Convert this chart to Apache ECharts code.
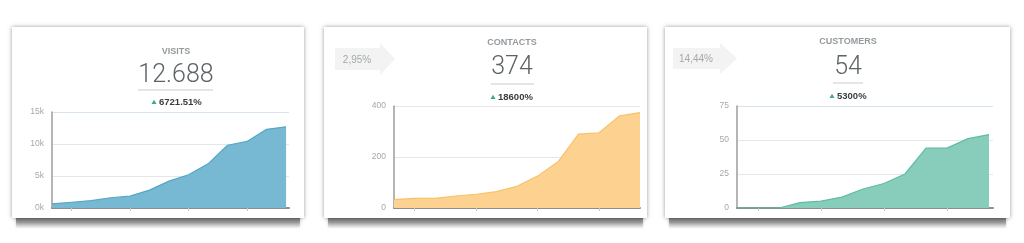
<!DOCTYPE html>
<html>
<head>
<meta charset="utf-8">
<script src="https://cdn.jsdelivr.net/npm/echarts@6/dist/echarts.min.js"></script>
<style>
html,body{margin:0;padding:0;background:#fff;}
#chart{width:1024px;height:243px;}
</style>
</head>
<body>
<div id="chart"></div>
<script>
// ---- data ----
const titles = ['VISITS', 'CONTACTS', 'CUSTOMERS'];
const totals = ['12.688', '374', '54'];
const growth = ['6721.51%', '18600%', '5300%'];
const conversions = ['2,95%', '14,44%'];
const visits = [650, 900, 1150, 1600, 1850, 2800, 4200, 5200, 6900, 9800, 10400, 12300, 12688];
const contacts = [33, 38, 38, 47, 54, 64, 85, 125, 181, 290, 295, 361, 374];
const customers = [0, 0, 0, 4, 5, 8, 14, 18, 25, 44, 44, 51, 54];
const yMax = [15000, 400, 75];
const yInterval = [5000, 200, 25];
const xTickIdx = [1, 4, 7, 10];

// ---- layout / style ----
const cards = [
  {x: 12, y: 27, w: 292, h: 191},
  {x: 324, y: 27, w: 323, h: 191},
  {x: 665, y: 27, w: 345, h: 191}
];
const grids = [
  {left: 52, top: 112, width: 237, height: 96},
  {left: 394, top: 106, width: 246, height: 102},
  {left: 737, top: 106, width: 256, height: 102}
];
const xMax = [12.15, 12, 12.19];
const heads = [
  {cx: 176, title: 52, num: 76, line: [138, 213, 90], pct: 102, tri: 154},
  {cx: 512, title: 43, num: 68, line: [491, 534, 84], pct: 97, tri: 493},
  {cx: 848, title: 42, num: 68, line: [833, 863, 83], pct: 96, tri: 832}
];
const arrows = [
  {x0: 335, x1: 380, tip: 395, top: 48, bot: 70, htop: 43, hbot: 75, tx: 357, ty: 60},
  {x0: 673, x1: 720, tip: 737, top: 48, bot: 69, htop: 43, hbot: 74, tx: 696, ty: 59}
];
const fills = ['#77b8d3', '#fdd290', '#88cdbb'];
const strokes = ['#55a6c9', '#f8c26a', '#5fbca2'];
const seriesData = [visits, contacts, customers];

const graphic = [];
cards.forEach(c => {
  graphic.push({
    type: 'rect', z: -20, silent: true,
    shape: {x: c.x + 4, y: c.y + c.h - 4, width: c.w - 8, height: 15},
    style: {
      fill: new echarts.graphic.LinearGradient(0, 0, 0, 1, [
        {offset: 0, color: 'rgba(80,80,80,0.95)'},
        {offset: 0.55, color: 'rgba(120,120,120,0.65)'},
        {offset: 1, color: 'rgba(200,200,200,0)'}
      ]),
      shadowBlur: 3, shadowColor: 'rgba(0,0,0,0.3)'
    }
  });
  graphic.push({
    type: 'rect', z: -10, silent: true,
    shape: {x: c.x, y: c.y, width: c.w, height: c.h},
    style: {fill: '#ffffff', shadowBlur: 4, shadowColor: 'rgba(0,0,0,0.4)', shadowOffsetY: 0}
  });
});
heads.forEach((h, i) => {
  graphic.push({type: 'text', z: 10, silent: true,
    style: {text: titles[i], x: h.cx, y: h.title, fill: '#959a9d', font: 'bold 9px "Liberation Sans", Arial, sans-serif', textAlign: 'center', textVerticalAlign: 'middle', verticalAlign: 'middle'}});
  graphic.push({type: 'text', z: 10, silent: true,
    style: {text: totals[i], x: h.cx, y: h.num, fill: '#5d6366', font: '300 25px Roboto, sans-serif', textAlign: 'center', textVerticalAlign: 'middle', verticalAlign: 'middle'}});
  graphic.push({type: 'line', z: 10, silent: true,
    shape: {x1: h.line[0], y1: h.line[2], x2: h.line[1], y2: h.line[2]},
    style: {stroke: '#dcdcdc', lineWidth: 1.5}});
  graphic.push({type: 'polygon', z: 10, silent: true,
    shape: {points: [[h.tri - 2.5, h.pct + 2], [h.tri + 2.5, h.pct + 2], [h.tri, h.pct - 2.2]]},
    style: {fill: '#3aac8e'}});
  graphic.push({type: 'text', z: 10, silent: true,
    style: {text: growth[i], x: h.tri + 5, y: h.pct, fill: '#3a3d3f', font: 'bold 9.5px "Liberation Sans", Arial, sans-serif', textAlign: 'left', textVerticalAlign: 'middle', verticalAlign: 'middle'}});
});
arrows.forEach((a, i) => {
  graphic.push({type: 'polygon', z: 5, silent: true,
    shape: {points: [[a.x0, a.top], [a.x1, a.top], [a.x1, a.htop], [a.tip, (a.htop + a.hbot) / 2], [a.x1, a.hbot], [a.x1, a.bot], [a.x0, a.bot]]},
    style: {fill: '#f3f3f3'}});
  graphic.push({type: 'text', z: 10, silent: true,
    style: {text: conversions[i], x: a.tx, y: a.ty, fill: '#a4a8ab', font: '10px "Liberation Sans", Arial, sans-serif', textAlign: 'center', textVerticalAlign: 'middle', verticalAlign: 'middle'}});
});

const option = {
  animation: false,
  backgroundColor: '#ffffff',
  graphic: graphic,
  grid: grids,
  xAxis: grids.map((g, i) => ({
    type: 'value', gridIndex: i, min: 0, max: xMax[i],
    axisLine: {show: true, onZero: false, lineStyle: {color: '#8e8e8e', width: 2}},
    axisTick: {show: true, customValues: xTickIdx, length: 3, lineStyle: {color: '#c8c8c8'}},
    axisLabel: {show: false},
    splitLine: {show: false}
  })),
  yAxis: grids.map((g, i) => ({
    type: 'value', gridIndex: i, min: 0, max: yMax[i], interval: yInterval[i],
    axisLine: {show: true, lineStyle: {color: '#9c9c9c', width: 1.5}},
    axisTick: {show: false},
    axisLabel: {
      color: '#a8a8a8', fontSize: 8.5, margin: 8, fontFamily: '"Liberation Sans", Arial, sans-serif',
      formatter: i === 0 ? (v => (v / 1000) + 'k') : (v => String(v))
    },
    splitLine: {show: true, lineStyle: {color: ['#e6e6e6', '#e6e6e6', '#e6e6e6', '#d7e4ee'], width: 1}}
  })),
  series: seriesData.map((d, i) => ({
    type: 'line', xAxisIndex: i, yAxisIndex: i,
    data: d.map((v, k) => [k, v]),
    symbol: 'none', smooth: false,
    lineStyle: {color: strokes[i], width: 1.2},
    areaStyle: {color: fills[i], opacity: 1},
    z: 2
  }))
};
const chart = echarts.init(document.getElementById('chart'), null, {renderer: 'canvas'});
chart.setOption(option);
</script>
</body>
</html>
